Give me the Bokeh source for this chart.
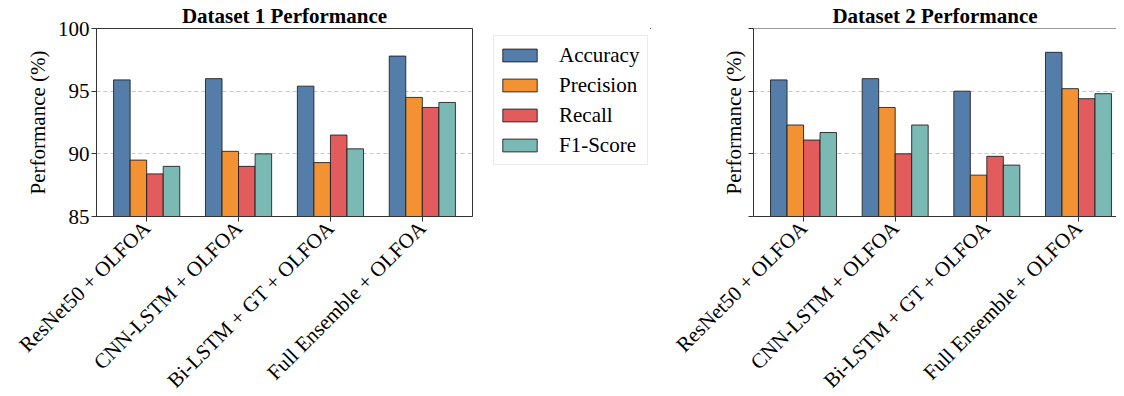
import math
from bokeh.plotting import figure
from bokeh.models import (ColumnDataSource, Range1d, FixedTicker, Legend, LegendItem, Span)
from bokeh.layouts import row
from bokeh.transform import dodge
from bokeh.embed import file_html
from bokeh.resources import INLINE

models = ["ResNet50 + OLFOA", "CNN-LSTM + OLFOA", "Bi-LSTM + GT + OLFOA", "Full Ensemble + OLFOA"]
metrics = ["Accuracy", "Precision", "Recall", "F1-Score"]
d1_accuracy = [95.9, 96.0, 95.4, 97.8]
d1_precision = [89.5, 90.2, 89.3, 94.5]
d1_recall = [88.4, 89.0, 91.5, 93.7]
d1_f1 = [89.0, 90.0, 90.4, 94.1]
d2_accuracy = [95.9, 96.0, 95.0, 98.1]
d2_precision = [92.3, 93.7, 88.3, 95.2]
d2_recall = [91.1, 90.0, 89.8, 94.4]
d2_f1 = [91.7, 92.3, 89.1, 94.8]
y_ticks = [85, 90, 95, 100]

COLORS = ["#4E79A7", "#F28E2B", "#E15759", "#76B7B2"]
FONT = "Liberation Serif"
TXT = "21px"
BAR_W = 0.18
OFFSETS = [-1.5 * BAR_W, -0.5 * BAR_W, 0.5 * BAR_W, 1.5 * BAR_W]
SPINE = "#333333"
BAR_STYLE = dict(fill_alpha=0.97, line_color="#1a1a1a", line_width=1, line_alpha=0.85)


def make_panel(title, series, show_labels, x_end, frame_w, border_left, border_right, top_spine):
    src = ColumnDataSource(dict(idx=list(range(len(models))),
                                Accuracy=series[0], Precision=series[1],
                                Recall=series[2], F1=series[3]))
    p = figure(frame_width=frame_w, frame_height=188, output_backend="svg",
               toolbar_location=None, x_range=Range1d(-0.546, x_end),
               y_range=Range1d(85, 100), min_border_left=border_left,
               min_border_right=border_right, min_border_top=0, min_border_bottom=0)
    p.background_fill_color = "white"
    p.border_fill_color = "white"
    keys = ["Accuracy", "Precision", "Recall", "F1"]
    for k, off, c in zip(keys, OFFSETS, COLORS):
        p.vbar(x=dodge("idx", off), top=k, bottom=0, width=BAR_W, source=src,
               fill_color=c, **BAR_STYLE)

    p.title.text = title
    p.title.text_font = FONT
    p.title.text_font_style = "bold"
    p.title.text_font_size = "21px"
    p.title.align = "center"
    p.title.text_color = "black"
    p.title.standoff = 2

    p.xaxis.ticker = FixedTicker(ticks=list(range(len(models))))
    p.xaxis.major_label_overrides = {i: m for i, m in enumerate(models)}
    p.xaxis.major_label_orientation = math.pi / 4
    p.xaxis.major_label_text_font = FONT
    p.xaxis.major_label_text_font_size = TXT
    p.xaxis.major_label_text_color = "black"
    p.xaxis.major_label_standoff = 3
    p.xaxis.minor_tick_line_color = None
    p.xaxis.major_tick_in = 0
    p.xaxis.major_tick_out = 5
    p.xaxis.axis_line_color = SPINE
    p.xaxis.major_tick_line_color = SPINE

    p.yaxis.ticker = FixedTicker(ticks=y_ticks)
    p.yaxis.minor_tick_line_color = None
    p.yaxis.major_tick_in = 0
    p.yaxis.major_tick_out = 5
    p.yaxis.axis_line_color = SPINE
    p.yaxis.major_tick_line_color = SPINE
    p.yaxis.axis_label = "Performance (%)"
    p.yaxis.axis_label_text_font = FONT
    p.yaxis.axis_label_text_font_size = TXT
    p.yaxis.axis_label_text_font_style = "normal"
    p.yaxis.axis_label_text_color = "black"
    p.yaxis.major_label_text_font = FONT
    p.yaxis.major_label_text_font_size = TXT
    p.yaxis.major_label_text_color = "black"
    p.yaxis.major_label_standoff = 2
    if show_labels:
        p.yaxis.axis_label_standoff = 5
    else:
        p.yaxis.major_label_overrides = {t: "" for t in y_ticks}
        p.yaxis.axis_label_standoff = 3

    p.xgrid.grid_line_color = None
    p.ygrid.grid_line_color = "#c8c8c8"
    p.ygrid.grid_line_dash = "4 3"
    p.ygrid.grid_line_width = 1

    if top_spine:
        p.outline_line_color = None
        p.add_layout(Span(location=100, dimension="width", line_color=SPINE, line_width=1))
    else:
        p.outline_line_color = SPINE
    return p


p1 = make_panel("Dataset 1 Performance", [d1_accuracy, d1_precision, d1_recall, d1_f1],
                True, 3.546, 376, 96, 20, False)

# legend holder placed between the two panels, with the same vertical structure as the panels
pl = figure(frame_width=158, frame_height=188, output_backend="svg", toolbar_location=None,
            x_range=Range1d(0, 1), y_range=Range1d(0, 1), x_axis_location=None,
            y_axis_location=None, min_border_left=0, min_border_right=10,
            min_border_top=28, min_border_bottom=175)
pl.outline_line_color = None
pl.xgrid.grid_line_color = None
pl.ygrid.grid_line_color = None
pl.background_fill_color = "white"
pl.border_fill_color = "white"
# off-range swatch renderers: they only give the legend its patches
legend_src = ColumnDataSource(dict(x=[5.0], top=[5.0], bottom=[4.0]))
legend_renderers = [pl.vbar(x="x", top="top", bottom="bottom", width=0.1, source=legend_src,
                            fill_color=c, **BAR_STYLE) for c in COLORS]
items = [LegendItem(label=m, renderers=[r]) for m, r in zip(metrics, legend_renderers)]
lg = Legend(items=items, location=(1, 51), orientation="vertical",
            label_text_font=FONT, label_text_font_size=TXT,
            label_text_color="black", glyph_width=43, glyph_height=16,
            label_height=30, label_width=84, label_standoff=18, spacing=0,
            padding=4, margin=0, border_line_color="#d6d6d6",
            border_line_width=1, background_fill_color="white",
            background_fill_alpha=1)
pl.add_layout(lg, "center")

p2 = make_panel("Dataset 2 Performance", [d2_accuracy, d2_precision, d2_recall, d2_f1],
                False, 3.415, 363, 93, 0, True)

layout = row(p1, pl, p2, spacing=0)
open("out.html", "w").write(file_html(layout, INLINE))
